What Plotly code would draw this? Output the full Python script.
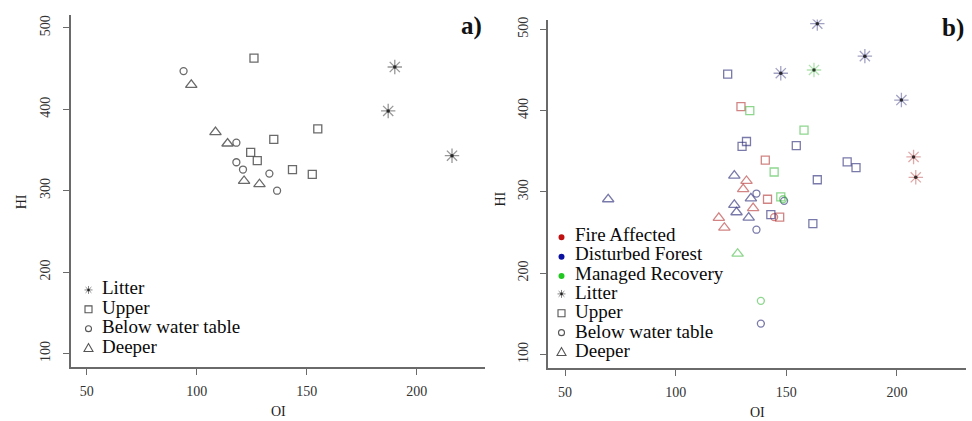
import plotly.graph_objects as go

# ---------------- Panel a data (OI, HI) ----------------
a_litter_oi = [190, 187, 216]
a_litter_hi = [452, 398, 343]
a_upper_oi = [126, 155, 135, 124.5, 127.5, 143.5, 152.5]
a_upper_hi = [463, 376, 363, 347, 337, 326, 320]
a_below_oi = [94, 118, 118, 121, 133, 136.5]
a_below_hi = [447, 359, 335, 326, 321, 300]
a_deeper_oi = [97.5, 108.5, 114, 121.5, 128.5]
a_deeper_hi = [430, 372, 358, 312, 308]

# ---------------- Panel b data (OI, HI) ----------------
# Fire Affected
fa_litter_oi = [207.5, 208.5]
fa_litter_hi = [343, 318]
fa_upper_oi = [129.5, 140.5, 141.5, 147]
fa_upper_hi = [405, 339, 291, 269]
fa_below_oi = [144.5]
fa_below_hi = [269]
fa_deeper_oi = [132, 130.5, 135, 119.5, 122]
fa_deeper_hi = [313.5, 303.5, 280, 268, 256]
# Disturbed Forest
df_litter_oi = [164, 185.5, 147.5, 202]
df_litter_hi = [507, 467, 446, 413]
df_upper_oi = [123.5, 132, 130, 154.5, 164, 177.5, 181.5, 162, 143]
df_upper_hi = [445, 362, 356, 357, 315, 337, 330, 261, 272]
df_below_oi = [136.5, 136.5, 138.5, 149]
df_below_hi = [298, 253.5, 138, 289]
df_deeper_oi = [126.5, 134, 126.5, 127.5, 133, 69.5]
df_deeper_hi = [320, 292, 284, 275, 268.5, 291]
# Managed Recovery
mr_litter_oi = [162.5]
mr_litter_hi = [450]
mr_upper_oi = [133.5, 158, 144.5, 147.5]
mr_upper_hi = [400, 376, 324.5, 294]
mr_below_oi = [138.5, 148.5]
mr_below_hi = [166, 291]
mr_deeper_oi = [128]
mr_deeper_hi = [224]

x_ticks = [50, 100, 150, 200]
y_ticks = [100, 200, 300, 400, 500]
layer_names = ["Litter", "Upper", "Below water table", "Deeper"]
site_names = ["Fire Affected", "Disturbed Forest", "Managed Recovery"]

W, H = 972, 421
SERIF = "Liberation Serif"

GRAY = "rgba(80,80,80,0.85)"
RED = "rgba(180,50,50,0.6)"
BLUE = "rgba(50,50,125,0.65)"
GREEN = "rgba(50,180,50,0.55)"
SITE_DOT = ["#c01010", "#0a10a0", "#22c822"]

SYMS = {"Litter": "asterisk-open", "Upper": "square-open",
        "Below water table": "circle-open", "Deeper": "triangle-up-open"}
SIZES = {"Litter": 12, "Upper": 8, "Below water table": 7, "Deeper": 10}

fig = go.Figure()


def lighten(rgba, f):
    vals = rgba[rgba.index("(") + 1:-1].split(",")
    return "rgba({},{},{},{})".format(vals[0], vals[1], vals[2], float(vals[3]) * f)


def add_pts(x, y, layer, color, xa, ya):
    c = lighten(color, 0.7) if layer == "Litter" else color
    fig.add_trace(go.Scatter(
        x=x, y=y, mode="markers", xaxis=xa, yaxis=ya, showlegend=False,
        hoverinfo="skip",
        marker=dict(symbol=SYMS[layer], size=SIZES[layer], color=c,
                    line=dict(color=c, width=1.3))))
    if layer == "Litter":
        fig.add_trace(go.Scatter(
            x=x, y=y, mode="markers", xaxis=xa, yaxis=ya, showlegend=False,
            hoverinfo="skip",
            marker=dict(symbol="circle", size=3.5, color="rgba(20,20,20,0.85)")))


# panel a
add_pts(a_upper_oi, a_upper_hi, "Upper", GRAY, "x", "y")
add_pts(a_below_oi, a_below_hi, "Below water table", GRAY, "x", "y")
add_pts(a_deeper_oi, a_deeper_hi, "Deeper", GRAY, "x", "y")
add_pts(a_litter_oi, a_litter_hi, "Litter", GRAY, "x", "y")

# panel b
for col, data in [
    (RED, [(fa_litter_oi, fa_litter_hi, "Litter"), (fa_upper_oi, fa_upper_hi, "Upper"),
           (fa_below_oi, fa_below_hi, "Below water table"), (fa_deeper_oi, fa_deeper_hi, "Deeper")]),
    (BLUE, [(df_litter_oi, df_litter_hi, "Litter"), (df_upper_oi, df_upper_hi, "Upper"),
            (df_below_oi, df_below_hi, "Below water table"), (df_deeper_oi, df_deeper_hi, "Deeper")]),
    (GREEN, [(mr_litter_oi, mr_litter_hi, "Litter"), (mr_upper_oi, mr_upper_hi, "Upper"),
             (mr_below_oi, mr_below_hi, "Below water table"), (mr_deeper_oi, mr_deeper_hi, "Deeper")]),
]:
    for x, y, layer in data:
        add_pts(x, y, layer, col, "x2", "y2")


def px(x):
    return x / W


def py(y):
    return 1 - y / H


shapes = []
annotations = []
LEG = "#555555"


def sym_shape(kind, cx, cy, color=LEG):
    if kind == "Upper":
        s = 3.5
        shapes.append(dict(type="rect", xref="paper", yref="paper",
                           x0=px(cx - s), x1=px(cx + s), y0=py(cy + s), y1=py(cy - s),
                           line=dict(color=color, width=1.1)))
    elif kind == "Below water table":
        r = 3
        shapes.append(dict(type="circle", xref="paper", yref="paper",
                           x0=px(cx - r), x1=px(cx + r), y0=py(cy + r), y1=py(cy - r),
                           line=dict(color=color, width=1.1)))
    elif kind == "Deeper":
        path = "M {},{} L {},{} L {},{} Z".format(px(cx - 4.5), py(cy + 3.5), px(cx + 4.5), py(cy + 3.5),
                                                px(cx), py(cy - 4.5))
        shapes.append(dict(type="path", xref="paper", yref="paper", path=path,
                           line=dict(color=color, width=1.1)))
    elif kind == "Litter":
        r = 4
        d = 2.9
        path = "M {},{} L {},{} M {},{} L {},{} M {},{} L {},{} M {},{} L {},{}".format(
            px(cx - r), py(cy), px(cx + r), py(cy),
            px(cx), py(cy - r), px(cx), py(cy + r),
            px(cx - d), py(cy - d), px(cx + d), py(cy + d),
            px(cx - d), py(cy + d), px(cx + d), py(cy - d))
        shapes.append(dict(type="path", xref="paper", yref="paper", path=path,
                           line=dict(color="#888888", width=1)))
        shapes.append(dict(type="circle", xref="paper", yref="paper",
                           x0=px(cx - 1.3), x1=px(cx + 1.3), y0=py(cy + 1.3), y1=py(cy - 1.3),
                           fillcolor="#222222", line=dict(width=0)))
    else:  # filled dot
        r = 3
        shapes.append(dict(type="circle", xref="paper", yref="paper",
                           x0=px(cx - r), x1=px(cx + r), y0=py(cy + r), y1=py(cy - r),
                           fillcolor=color, line=dict(width=0)))


def leg_text(t, x, y):
    annotations.append(dict(text=t, xref="paper", yref="paper", x=px(x), y=py(y),
                            xanchor="left", yanchor="middle", showarrow=False,
                            font=dict(family=SERIF, size=19, color="#0a0a0a")))


# legend panel a
for i, name in enumerate(layer_names):
    yy = 287 + 19.5 * i
    sym_shape(name, 88.5, yy + 2)
    leg_text(name, 100, yy)

# legend panel b
for i, name in enumerate(site_names):
    yy = 233 + 19.5 * i
    sym_shape("dot", 561.5, yy + 3, SITE_DOT[i])
    leg_text(name, 573, yy)
for i, name in enumerate(layer_names):
    yy = 291.5 + 19.5 * i
    sym_shape(name, 561.5, yy + 1.5)
    leg_text(name, 573, yy)

# axis titles and panel tags
for t, x, y, ang in [("HI", 21.7, 200, -90), ("HI", 501, 197, -90),
                     ("OI", 278, 411, 0), ("OI", 757, 412, 0)]:
    annotations.append(dict(text=t, xref="paper", yref="paper", x=px(x), y=py(y),
                            xanchor="center", yanchor="middle", showarrow=False,
                            textangle=ang, font=dict(family=SERIF, size=14, color="#222")))
for t, x, y in [("a)", 471, 23), ("b)", 953, 25)]:
    annotations.append(dict(text="<b>" + t + "</b>", xref="paper", yref="paper",
                            x=px(x), y=py(y), xanchor="center", yanchor="middle",
                            showarrow=False, font=dict(family=SERIF, size=25, color="#111")))

axis_common = dict(showgrid=False, zeroline=False, showline=True, linecolor="#6a6a6a",
                   linewidth=1.5, ticks="outside", ticklen=6, tickcolor="#6a6a6a",
                   tickwidth=1.2, tickfont=dict(family=SERIF, size=14, color="#333333"))

fig.update_layout(
    width=W, height=H, margin=dict(l=0, r=0, t=0, b=0),
    paper_bgcolor="white", plot_bgcolor="white", showlegend=False,
    xaxis=dict(domain=[px(70.7), px(485)], range=[42.7, 231], tickvals=x_ticks,
               anchor="y", ticklabelstandoff=4, **axis_common),
    yaxis=dict(domain=[py(366.7), py(12)], range=[83.3, 516], tickvals=y_ticks,
               anchor="x", tickangle=-90, ticklabelstandoff=7, **axis_common),
    xaxis2=dict(domain=[px(548), px(966)], range=[42.3, 231.2], tickvals=x_ticks,
                anchor="y2", ticklabelstandoff=4, **axis_common),
    yaxis2=dict(domain=[py(367.7), py(16.7)], range=[83.3, 512], tickvals=y_ticks,
                anchor="x2", tickangle=-90, ticklabelstandoff=7, **axis_common),
    shapes=shapes, annotations=annotations,
)

fig.write_html("out.html", config={"displayModeBar": False},
               post_script="document.body.style.margin='0px';document.body.style.padding='0px';")
